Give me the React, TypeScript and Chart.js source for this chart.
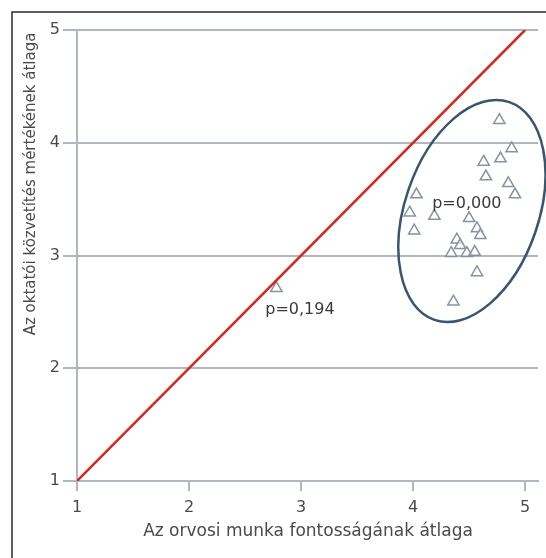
import React, { useEffect, useRef } from "react";
import { Chart, registerables } from "chart.js";

Chart.register(...registerables);

// ---- data ----
const pointX = [2.78, 4.77, 4.88, 4.78, 4.63, 4.65, 4.85, 4.91, 4.03, 3.97, 4.19, 4.01, 4.5, 4.57, 4.6, 4.39, 4.42, 4.34, 4.48, 4.55, 4.57, 4.36];
const pointY = [2.71, 4.2, 3.95, 3.86, 3.83, 3.7, 3.64, 3.54, 3.54, 3.38, 3.35, 3.22, 3.33, 3.24, 3.18, 3.14, 3.09, 3.02, 3.02, 3.03, 2.85, 2.59];
const diagonalX = [1, 5];
const diagonalY = [1, 5];
const xTicks = [1, 2, 3, 4, 5];
const yTicks = [1, 2, 3, 4, 5];
const xTitle = "Az orvosi munka fontosságának átlaga";
const yTitle = "Az oktatói közvetítés mértékének átlaga";
const pLabels = ["p=0,194", "p=0,000"];
const pLabelX = [2.99, 4.48];
const pLabelY = [2.52, 3.46];
const ellipseCenterX = 4.525;
const ellipseCenterY = 3.395;
const ellipseRadiusX = 0.597;
const ellipseRadiusY = 1.021;
const ellipseTiltDeg = 19;

const FONT = "'DejaVu Sans', sans-serif";
const GRID = "#adb8c2";
const TEXT = "#4a4a4a";

const overlay = {
  id: "overlay",
  beforeDraw(chart: any) {
    const ctx = chart.ctx;
    ctx.save();
    ctx.strokeStyle = "#2a2a2a";
    ctx.lineWidth = 1.5;
    ctx.beginPath();
    ctx.moveTo(12, 558);
    ctx.lineTo(12, 12);
    ctx.lineTo(546, 12);
    ctx.stroke();
    ctx.restore();
  },
  afterDatasetsDraw(chart: any) {
    const ctx = chart.ctx;
    const xs = chart.scales.x;
    const ys = chart.scales.y;
    const cx = xs.getPixelForValue(ellipseCenterX);
    const cy = ys.getPixelForValue(ellipseCenterY);
    const rx = Math.abs(xs.getPixelForValue(ellipseCenterX + ellipseRadiusX) - cx);
    const ry = Math.abs(ys.getPixelForValue(ellipseCenterY + ellipseRadiusY) - cy);
    ctx.save();
    ctx.strokeStyle = "#3a5570";
    ctx.lineWidth = 2.5;
    ctx.beginPath();
    ctx.ellipse(cx, cy, rx, ry, (ellipseTiltDeg * Math.PI) / 180, 0, Math.PI * 2);
    ctx.stroke();

    ctx.fillStyle = "#3a3a3a";
    ctx.font = `16px ${FONT}`;
    ctx.textAlign = "center";
    ctx.textBaseline = "middle";
    pLabels.forEach((t, i) => {
      ctx.fillText(t, xs.getPixelForValue(pLabelX[i]), ys.getPixelForValue(pLabelY[i]));
    });
    ctx.restore();
  },
  afterDraw(chart: any) {
    const ctx = chart.ctx;
    ctx.save();
    ctx.fillStyle = TEXT;
    ctx.textAlign = "center";
    ctx.textBaseline = "middle";
    ctx.font = `17px ${FONT}`;
    ctx.fillText(xTitle, 308, 532);
    ctx.translate(31, 184);
    ctx.rotate(-Math.PI / 2);
    ctx.font = `15px ${FONT}`;
    ctx.fillText(yTitle, 0, 0);
    ctx.restore();
  },
};

export default function App() {
  const ref = useRef<HTMLCanvasElement | null>(null);

  useEffect(() => {
    if (!ref.current) return;
    const chart = new Chart(ref.current, {
      type: "scatter",
      data: {
        datasets: [
          {
            type: "line",
            data: diagonalX.map((x, i) => ({ x, y: diagonalY[i] })),
            borderColor: "#d8261c",
            borderWidth: 2.5,
            pointRadius: 0,
            showLine: true,
            fill: false,
          } as any,
          {
            data: pointX.map((x, i) => ({ x, y: pointY[i] })),
            pointStyle: "triangle",
            pointRadius: 6.5,
            borderColor: "#8593a3",
            borderWidth: 1.5,
            backgroundColor: "rgba(255,255,255,0.6)",
          },
        ],
      },
      options: {
        animation: false,
        responsive: true,
        maintainAspectRatio: false,
        layout: { padding: { top: 30, right: 4, left: 0, bottom: 0 } },
        plugins: { legend: { display: false }, tooltip: { enabled: false } },
        scales: {
          x: {
            type: "linear",
            min: 1,
            max: 5.115,
            afterBuildTicks: (s: any) => {
              s.ticks = xTicks.map((v) => ({ value: v }));
            },
            afterFit: (s: any) => {
              s.height = 77;
            },
            ticks: { font: { family: FONT, size: 16 }, color: TEXT, padding: 7 },
            grid: { drawOnChartArea: false, drawTicks: true, tickLength: 10, color: GRID, lineWidth: 2 },
            border: { display: true, color: GRID, width: 2 },
          },
          y: {
            type: "linear",
            min: 1,
            max: 5,
            afterBuildTicks: (s: any) => {
              s.ticks = yTicks.map((v) => ({ value: v }));
            },
            afterFit: (s: any) => {
              s.width = 77;
            },
            ticks: { font: { family: FONT, size: 16 }, color: TEXT, padding: 3 },
            grid: { color: GRID, lineWidth: 2, tickLength: 14 },
            border: { display: true, color: GRID, width: 2 },
          },
        },
      },
      plugins: [overlay],
    });
    return () => chart.destroy();
  }, []);

  return (
    <div style={{ position: "fixed", left: 0, top: 0, width: 546, height: 558, background: "#fff" }}>
      <canvas ref={ref} />
    </div>
  );
}
